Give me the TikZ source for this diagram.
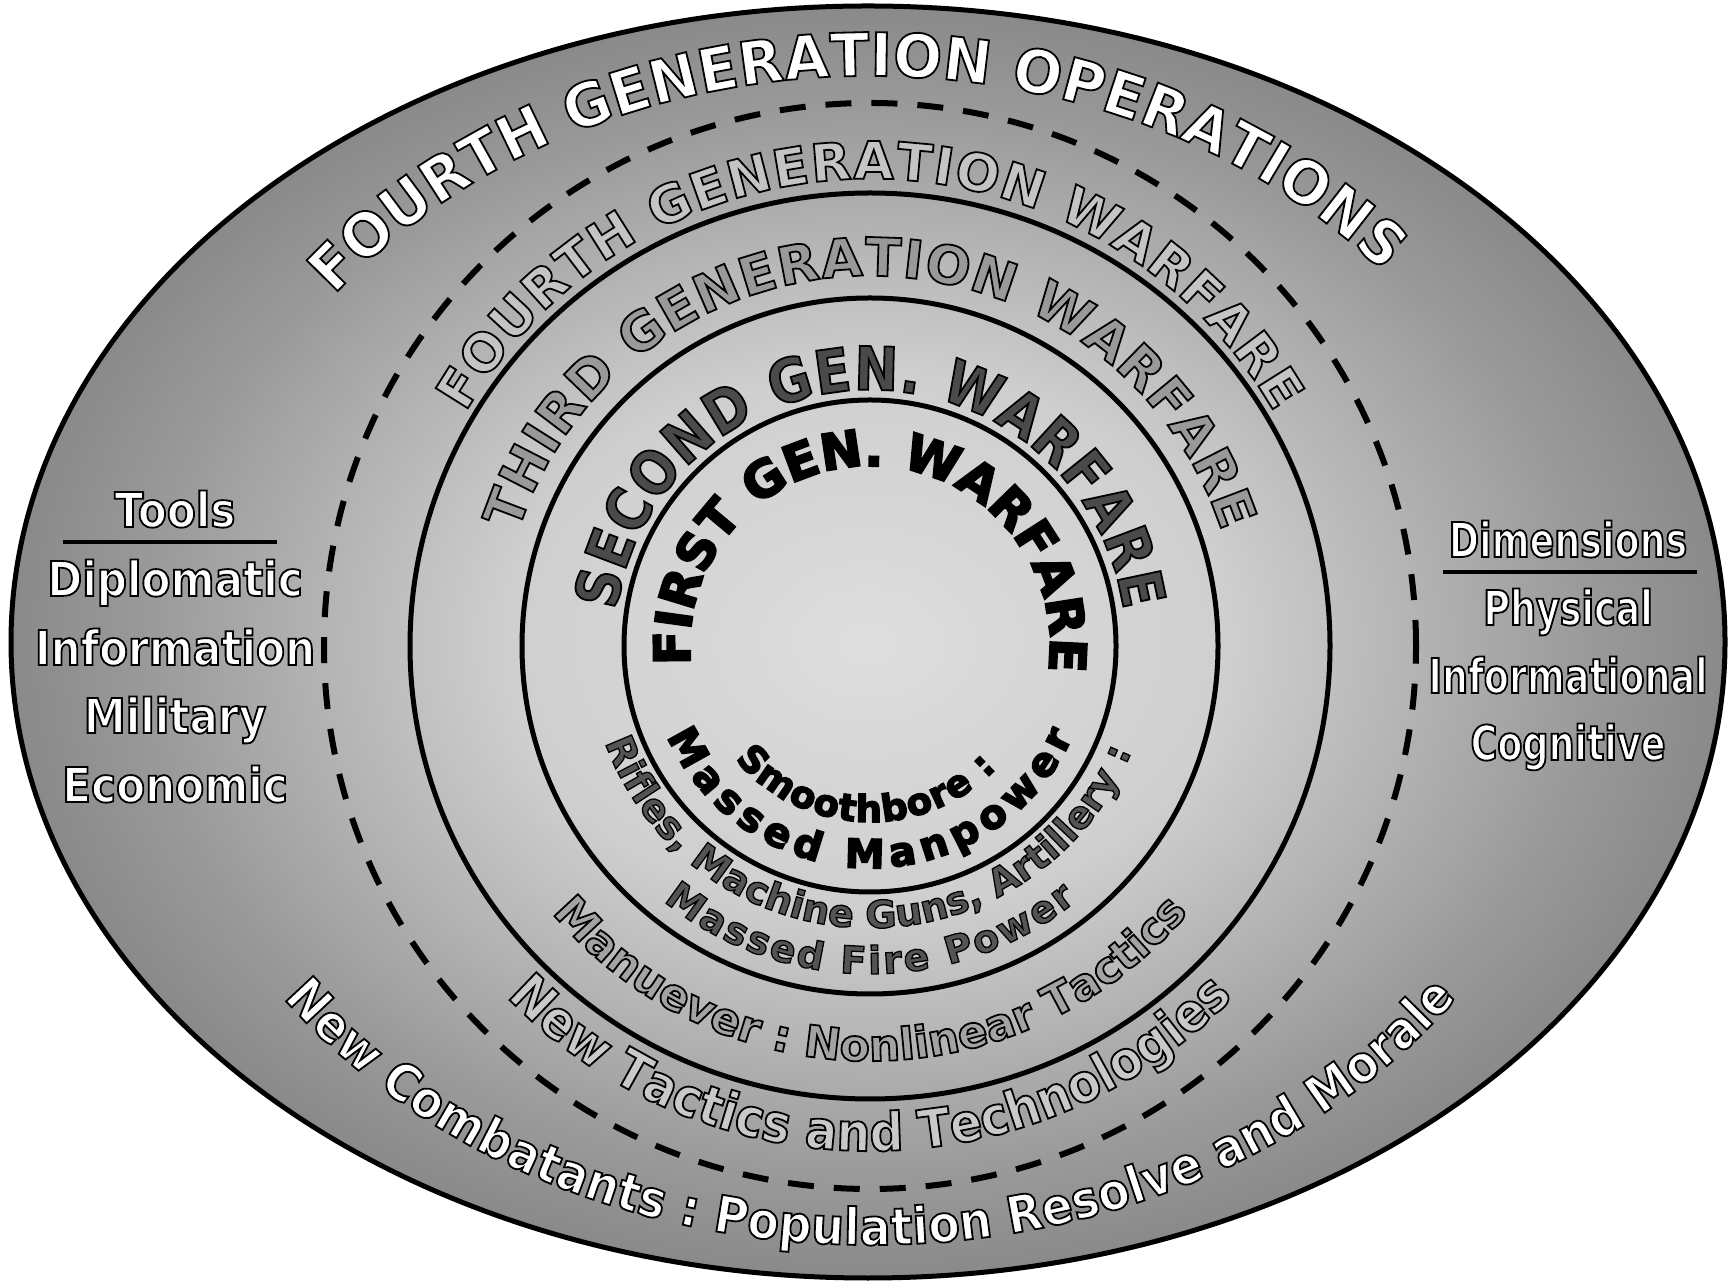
\documentclass[tikz,border=0pt]{standalone}
\usepackage{fontspec}
\setmainfont{DejaVu Sans}
\newfontfamily\djb{DejaVu Sans}
\newfontfamily\djk{DejaVu Sans}[FakeBold=4]
\newfontfamily\djw{DejaVu Sans}[FakeStretch=0.96]
\newfontfamily\djs{DejaVu Sans}[FakeStretch=0.87]
\newfontfamily\djc{DejaVu Sans}[FakeStretch=0.9]
\newfontfamily\djl{DejaVu Sans}[FakeStretch=0.88]
\newfontfamily\djr{DejaVu Sans}[FakeStretch=0.76]
\usetikzlibrary{decorations.text,calc}
\definecolor{g0}{gray}{0.87}
\definecolor{g1}{gray}{0.81}
\definecolor{g2}{gray}{0.60}
\definecolor{g3}{gray}{0.42}
\definecolor{g4}{gray}{0.37}
\definecolor{tA}{gray}{0.77}
\definecolor{tB}{gray}{0.60}
\definecolor{tC}{gray}{0.29}
\definecolor{tD}{gray}{0.64}
\definecolor{tE}{gray}{0.79}
\definecolor{tF}{gray}{0.33}
% the shading square is enlarged by sqrt(2) when filling a path: the path edge lies at about 35.4bp
\pgfdeclareradialshading{bgshade}{\pgfpoint{0bp}{0bp}}{color(0bp)=(g0); color(10.6bp)=(g1); color(21.2bp)=(g2); color(32.5bp)=(g3); color(35.4bp)=(g4); color(50bp)=(g4)}
\newcommand\outlbig{\special{pdf:literal direct 0 G 2 Tr 1.8 w}}
\newcommand\outlsmall{\special{pdf:literal direct 0 G 2 Tr 1.3 w}}
\newcommand\fmtA{\djw\bfseries\fontsize{60}{72}\selectfont\color{white}\outlbig}
\newcommand\fmtB{\djb\bfseries\fontsize{52}{62}\selectfont\color{tA}\outlbig}
\newcommand\fmtC{\djb\bfseries\fontsize{53}{64}\selectfont\color{tB}\outlbig}
\newcommand\fmtD{\djs\bfseries\fontsize{60}{72}\selectfont\color{tC}\outlbig}
\newcommand\fmtE{\djk\bfseries\fontsize{50}{60}\selectfont\color{black}}
\newcommand\fmtF{\djk\bfseries\fontsize{37}{45}\selectfont\color{black}}
\newcommand\fmtG{\djk\bfseries\fontsize{40}{48}\selectfont\color{black}}
\newcommand\fmtH{\djb\bfseries\fontsize{38}{46}\selectfont\color{tF}\outlsmall}
\newcommand\fmtI{\djb\bfseries\fontsize{44}{54}\selectfont\color{tD}\outlbig}
\newcommand\fmtJ{\djc\bfseries\fontsize{53}{64}\selectfont\color{tE}\outlbig}
\newcommand\fmtK{\djc\bfseries\fontsize{51}{62}\selectfont\color{white}\outlbig}
\tikzset{
  ring/.style={line width=5pt},
  arctext/.style={decorate,decoration={text along path,text={#1},text align=fit to path}},
  listL/.style={anchor=base,inner sep=0pt,text=white,font=\djl\bfseries\fontsize{48}{58}\selectfont},
  listR/.style={anchor=base,inner sep=0pt,text=white,font=\djr\bfseries\fontsize{48}{58}\selectfont},
  rule/.style={line width=4pt}
}
\begin{document}
\begin{tikzpicture}[x=1pt,y=1pt]
\useasboundingbox (0,0) rectangle (1728,1282);
\coordinate (O) at (868,640);
\coordinate (C) at (870,636);
% background
\shade[shading=bgshade] (O) ellipse[x radius=857,y radius=636];
\draw[line width=5pt] (O) ellipse[x radius=857,y radius=636];
\draw[line width=6pt,dash pattern=on 26pt off 20pt] (C) ellipse[x radius=546,y radius=543];
\draw[ring] (C) ellipse[x radius=460,y radius=453];
\draw[ring] (C) circle[radius=348];
\draw[ring] (C) circle[radius=246];
% outlined texts
\path[arctext={|\fmtA|FOURTH GENERATION OPERATIONS}] ($(C)+(142:680 and 570)$) arc[start angle=142,end angle=41,x radius=680,y radius=570];
\path[arctext={|\fmtB|FOURTH GENERATION WARFARE}] ($(C)+(150:467)$) arc[start angle=150,end angle=30,radius=467];
\path[arctext={|\fmtC|THIRD GENERATION WARFARE}] ($(C)+(162:370)$) arc[start angle=162,end angle=18,radius=370];
\path[arctext={|\fmtD|SECOND GEN. WARFARE}] ($(C)+(172:256)$) arc[start angle=172,end angle=8,radius=256];
\path[arctext={|\fmtH|Rifles, Machine Guns, Artillery :}] ($(C)+(200:282)$) arc[start angle=200,end angle=338,radius=282];
\path[arctext={|\fmtH|Massed Fire Power}] ($(C)+(231:328)$) arc[start angle=231,end angle=309,radius=328];
\path[arctext={|\fmtI|Manuever : Nonlinear Tactics}] ($(C)+(220:415)$) arc[start angle=220,end angle=320,radius=415];
\path[arctext={|\fmtJ|New Tactics and Technologies}] ($(C)+(224:505)$) arc[start angle=224,end angle=316,radius=505];
\path[arctext={|\fmtK|New Combatants : Population Resolve and Morale}] ($(C)+(216:725 and 599)$) arc[start angle=216,end angle=324,x radius=725,y radius=599];
% left list
\node[listL] (tools) at (175,755) {\outlbig Tools};
\node[listL] (dipl) at (175,686) {\outlbig Diplomatic};
\node[listL] (info) at (175,617) {\outlbig Information};
\node[listL] (mil) at (175,549) {\outlbig Military};
\node[listL] (eco) at (175,480) {\outlbig Economic};
\coordinate (tuL) at (63,740);
\coordinate (tuR) at (277,740);
\draw[rule] (tuL) -- (tuR);
% right list
\node[listR] (dims) at (1568,725) {\outlbig Dimensions};
\node[listR] (phys) at (1568,657) {\outlbig Physical};
\node[listR] (infl) at (1568,589) {\outlbig Informational};
\node[listR] (cogn) at (1568,522) {\outlbig Cognitive};
\coordinate (duL) at (1443,710);
\coordinate (duR) at (1697,710);
\draw[rule] (duL) -- (duR);
% inner black texts (heavy)
\path[arctext={|\fmtE|FIRST GEN. WARFARE}] ($(C)+(186:180)$) arc[start angle=186,end angle=-6,radius=180];
\path[arctext={|\fmtF|Smoothbore :}] ($(C)+(220:176)$) arc[start angle=220,end angle=316,radius=176];
\path[arctext={|\fmtG|Massed Manpower}] ($(C)+(204:222)$) arc[start angle=204,end angle=336,radius=222];
\end{tikzpicture}
\end{document}
